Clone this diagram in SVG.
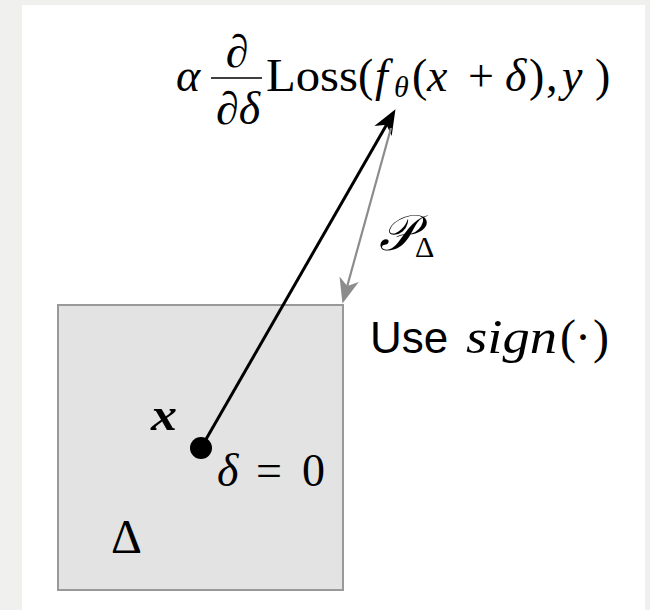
<svg xmlns="http://www.w3.org/2000/svg" width="650" height="610" viewBox="0 0 650 610">
<style>
.m{font-family:"Liberation Serif","DejaVu Serif",serif;font-size:46px;fill:#000}
.i{font-style:italic}
.sub{font-size:30px}
.big{font-size:48px}
.s{font-family:"Liberation Sans",Arial,sans-serif;font-size:44px;fill:#000}
</style>
<defs>
<marker id="ahBlack" viewBox="-10 -12 30 24" markerWidth="30" markerHeight="24" refX="0" refY="0" orient="auto" markerUnits="userSpaceOnUse">
<path d="M17,0 L-8,-10 L-1,0 L-8,10 Z" fill="#000"/>
</marker>
<marker id="ahGray" viewBox="-10 -12 30 24" markerWidth="30" markerHeight="24" refX="0" refY="0" orient="auto" markerUnits="userSpaceOnUse">
<path d="M17,0 L-8,-10 L-1,0 L-8,10 Z" fill="#8c8c8c"/>
</marker>
</defs>
<rect x="0" y="0" width="650" height="610" fill="#f0f0ee"/>
<rect x="22" y="5" width="623" height="605" fill="#ffffff"/>

<g id="region-delta">
<rect x="58" y="305" width="285" height="285" fill="#e3e3e3" stroke="#999999" stroke-width="2"/>
<text class="m big" x="111" y="553">Δ</text>
</g>

<g id="point-x">
<circle cx="201" cy="448" r="11" fill="#000"/>
<text class="m i" x="151" y="430" font-weight="bold" textLength="26" lengthAdjust="spacingAndGlyphs">x</text>
<text class="m i" x="217" y="486">δ</text>
<text class="m" x="256" y="486">=</text>
<text class="m" x="302" y="486">0</text>
</g>

<g id="gradient-step">
<text class="m i" x="176" y="91">α</text>
<text class="m" x="237" y="67" text-anchor="middle">∂</text>
<line x1="211" y1="78" x2="262" y2="78" stroke="#000" stroke-width="1.6"/>
<text class="m" x="238" y="124" text-anchor="middle"><tspan>∂</tspan><tspan class="i">δ</tspan></text>
<text class="m" x="266" y="91" textLength="92" lengthAdjust="spacingAndGlyphs">Loss</text>
<text class="m" x="358" y="91">(</text>
<text class="m i" x="375" y="91">f</text>
<text class="m i sub" x="394" y="97">θ</text>
<text class="m" x="412" y="91">(</text>
<text class="m i" x="427" y="91">x</text>
<text class="m" x="468" y="91">+</text>
<text class="m i" x="505" y="91">δ</text>
<text class="m" x="529" y="91">)</text>
<text class="m" x="546" y="91">,</text>
<text class="m i" x="562" y="91">y</text>
<text class="m" x="595" y="91">)</text>
</g>

<g id="projection-label">
<text class="m i" x="379" y="250" style="font-size:50px">𝒫</text>
<text class="m sub" x="415" y="257">Δ</text>
</g>

<g id="sign-note">
<text class="s" x="370" y="353">Use</text>
<text class="m i big" x="466" y="353" textLength="91" lengthAdjust="spacingAndGlyphs">sign</text>
<text class="m big" x="560" y="353">(</text>
<text class="m big" x="575" y="353">·</text>
<text class="m big" x="593" y="353">)</text>
</g>

<g id="connectors">
<line x1="201" y1="448" x2="387" y2="124" stroke="#000" stroke-width="3" marker-end="url(#ahBlack)"/>
<line x1="391" y1="128" x2="347" y2="287" stroke="#8c8c8c" stroke-width="2.2" marker-end="url(#ahGray)"/>
</g>
</svg>
